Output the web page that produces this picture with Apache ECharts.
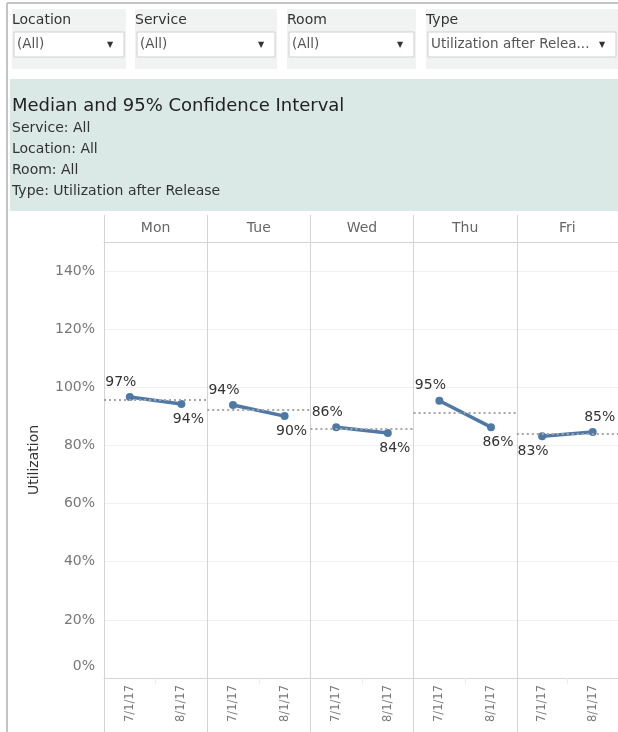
<!DOCTYPE html>
<html>
<head>
<meta charset="utf-8">
<script src="https://cdn.jsdelivr.net/npm/echarts@6/dist/echarts.min.js"></script>
<style>
html,body{margin:0;padding:0;background:#fff;}
#chart{width:618px;height:732px;}
</style>
</head>
<body>
<div id="chart"></div>
<script>
// ---- data ----
const days = ['Mon', 'Tue', 'Wed', 'Thu', 'Fri'];
const dates = ['7/1/17', '8/1/17'];
const julyValues = [96.7, 93.9, 86.3, 95.4, 83.2];
const augustValues = [94.3, 90.1, 84.3, 86.3, 84.6];
const medianValues = [95.6, 92.2, 85.8, 91.3, 84.0];
const yTickValues = [0, 20, 40, 60, 80, 100, 120, 140];
const filterLabels = ['Location', 'Service', 'Room', 'Type'];
const filterValues = ['(All)', '(All)', '(All)', 'Utilization after Relea...'];
const titleText = 'Median and 95% Confidence Interval';
const subtitleLines = ['Service: All', 'Location: All', 'Room: All', 'Type: Utilization after Release'];

const FONT = 'DejaVu Sans';
const chart = echarts.init(document.getElementById('chart'), null, {renderer: 'canvas'});

// ---- layout ----
const plotLeft = 104, plotTop = 242, plotBottom = 678, panelW = 103.2;
const lineColor = '#4e79a7';
const frameColor = '#d4d4d4';

const grids = [], xAxes = [], yAxes = [], series = [];
days.forEach((day, i) => {
  grids.push({left: plotLeft + i * panelW, top: plotTop, width: panelW, height: plotBottom - plotTop, containLabel: false});
  // date axis (bottom)
  xAxes.push({
    type: 'category', gridIndex: i, data: dates, position: 'bottom', boundaryGap: true,
    axisLine: {show: true, lineStyle: {color: frameColor, width: 1}},
    axisTick: {show: true, length: 6, interval: 0, lineStyle: {color: '#ececec'}},
    axisLabel: {rotate: 90, fontFamily: FONT, fontSize: 11.5, color: '#777', margin: 7, interval: 0}
  });
  // day header (top)
  xAxes.push({
    type: 'category', gridIndex: i, data: [day], position: 'top', boundaryGap: true,
    axisLine: {show: true, lineStyle: {color: frameColor, width: 1}},
    axisTick: {show: true, length: 27, lineStyle: {color: frameColor}},
    axisLabel: {fontFamily: FONT, fontSize: 14, color: '#666', margin: 7}
  });
  // panel separators below plot
  xAxes.push({
    type: 'category', gridIndex: i, data: [''], position: 'bottom', boundaryGap: true,
    axisLine: {show: false},
    axisTick: {show: true, length: 54, lineStyle: {color: frameColor}},
    axisLabel: {show: false}
  });
  yAxes.push({
    type: 'value', gridIndex: i, min: 0, max: 150, interval: 20,
    name: i === 0 ? 'Utilization' : '',
    nameLocation: 'middle', nameGap: 63, nameRotate: 90,
    nameTextStyle: {fontFamily: FONT, fontSize: 14, color: '#333'},
    axisLine: {show: true, lineStyle: {color: frameColor, width: 1}},
    axisTick: {show: false},
    splitLine: {show: true, lineStyle: {color: '#f0f0f0', width: 1}},
    axisLabel: {
      show: i === 0, showMaxLabel: true, margin: 9, fontFamily: FONT, fontSize: 14, color: '#777',
      formatter: v => yTickValues.indexOf(v) < 0 ? '' : (v === 0 ? '{z|0%}' : v + '%'),
      rich: {z: {fontFamily: FONT, fontSize: 14, color: '#777', padding: [0, 0, 24, 0]}}
    }
  });
  const v0 = julyValues[i], v1 = augustValues[i];
  const firstUp = v0 >= v1;
  series.push({
    type: 'line', xAxisIndex: i * 3, yAxisIndex: i,
    data: [
      {value: v0, label: {position: firstUp ? 'top' : 'bottom', offset: [-9, 0]}},
      {value: v1, label: {position: firstUp ? 'bottom' : 'top', offset: [7, 0]}}
    ],
    symbol: 'circle', symbolSize: 8,
    lineStyle: {color: lineColor, width: 3.5},
    itemStyle: {color: lineColor},
    label: {show: true, distance: 4, fontFamily: FONT, fontSize: 14, color: '#333',
            formatter: p => Math.round(p.value) + '%'},
    markLine: {
      silent: true, symbol: ['none', 'none'],
      label: {show: false},
      lineStyle: {color: '#a6a6a6', type: [2, 3], width: 2},
      data: [{yAxis: medianValues[i]}]
    },
    z: 3
  });
});

// ---- header (filters + title panel) ----
const filterBoxes = [[12, 114], [135, 142], [287, 129], [426, 192]];
const graphics = [];
graphics.push({type: 'line', shape: {x1: 7, y1: 3, x2: 618, y2: 3}, style: {stroke: '#c4c4c4', lineWidth: 2}});
graphics.push({type: 'line', shape: {x1: 7, y1: 3, x2: 7, y2: 732}, style: {stroke: '#c4c4c4', lineWidth: 2}});
filterLabels.forEach((lab, i) => {
  const [bx, bw] = filterBoxes[i];
  graphics.push({type: 'rect', shape: {x: bx, y: 9, width: bw, height: 60}, style: {fill: '#f1f3f3'}, z: 1});
  graphics.push({type: 'rect', shape: {x: bx + 2, y: 32, width: bw - 4, height: 25},
    style: {fill: '#fff', stroke: '#cfcfcf', lineWidth: 1}, z: 2});
  graphics.push({type: 'text', x: bx, y: 20, z: 3,
    style: {text: lab, fontFamily: FONT, fontSize: 14, fill: '#333', verticalAlign: 'middle'}});
  graphics.push({type: 'text', x: bx + 5, y: 44.5, z: 3,
    style: {text: filterValues[i], fontFamily: FONT, fontSize: 13.5, fill: '#555', verticalAlign: 'middle'}});
  graphics.push({type: 'text', x: bx + bw - 16, y: 44.5, z: 3,
    style: {text: '▼', fontFamily: FONT, fontSize: 8, fill: '#333', align: 'center', verticalAlign: 'middle'}});
});
graphics.push({type: 'rect', shape: {x: 10, y: 79, width: 608, height: 132}, style: {fill: '#dae8e6'}, z: 1});
graphics.push({type: 'text', x: 12, y: 106, z: 3,
  style: {text: titleText, fontFamily: FONT, fontSize: 18, fill: '#222', verticalAlign: 'middle'}});
subtitleLines.forEach((t, k) => {
  graphics.push({type: 'text', x: 12, y: 128 + k * 21, z: 3,
    style: {text: t, fontFamily: FONT, fontSize: 14, fill: '#333', verticalAlign: 'middle'}});
});

chart.setOption({
  animation: false,
  backgroundColor: '#fff',
  grid: grids,
  xAxis: xAxes,
  yAxis: yAxes,
  series: series,
  graphic: graphics
});
</script>
</body>
</html>
